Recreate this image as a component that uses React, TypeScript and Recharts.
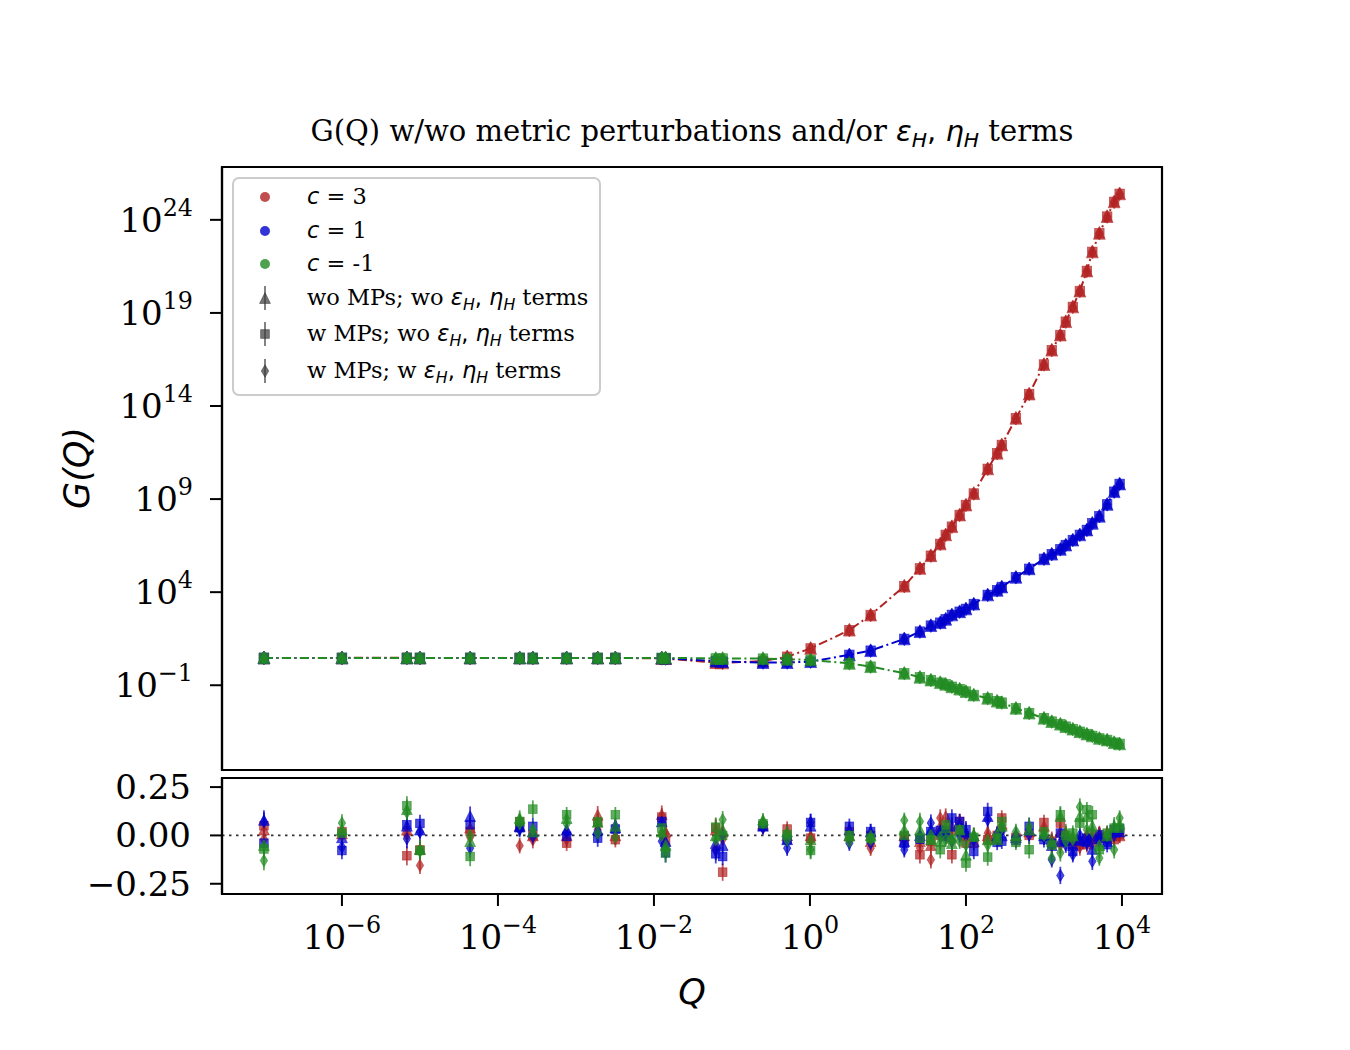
import React from 'react';
import { ComposedChart, Scatter, Line, XAxis, YAxis, ErrorBar, ReferenceLine, ReferenceArea } from 'recharts';

// ---------- data ----------
const Q = [1e-7, 1e-6, 6.8e-6, 1.0e-5, 4.4e-5, 1.9e-4, 2.8e-4, 7.6e-4, 1.9e-3, 3.2e-3, 0.0126, 0.0141, 0.062, 0.076, 0.25, 0.51, 1.02, 3.2, 6.0, 16.2, 25.7, 35.5, 46.8, 55, 66, 83, 100, 126, 190, 251, 288, 437, 646, 1000, 1259, 1622, 1905, 2344, 2884, 3548, 4169, 5129, 6457, 7943, 9333];

const G_C3 = [2.95, 2.95, 3.0, 2.95, 2.95, 2.95, 2.95, 2.95, 2.95, 2.95, 2.75, 2.7, 1.66, 1.58, 2.0, 3.4, 9.5, 91, 590, 2.1e4, 1.9e5, 9.1e5, 3.9e6, 1.2e7, 3.3e7, 1.4e8, 4.8e8, 2.0e9, 4.2e10, 2.9e11, 8.1e11, 2.2e13, 4.4e14, 1.7e16, 1.0e17, 6.5e17, 3.4e18, 2.1e19, 1.5e20, 1.8e21, 1.9e22, 1.9e23, 1.5e24, 9.3e24, 2.5e25];
const G_C1 = [2.95, 2.95, 2.95, 2.95, 2.95, 2.95, 2.95, 2.95, 2.95, 2.95, 2.9, 2.8, 2.0, 1.86, 1.66, 1.66, 1.86, 4.3, 7.2, 31, 76, 160, 230, 350, 600, 890, 1260, 2300, 7100, 1.26e4, 1.9e4, 6.3e4, 1.8e5, 6.2e5, 1.1e6, 2.0e6, 3.4e6, 6.3e6, 1.2e7, 2.2e7, 5.0e7, 1.2e8, 5.2e8, 2.5e9, 6.5e9];
const G_CM1 = [2.95, 2.95, 2.95, 2.95, 2.95, 2.95, 2.95, 2.95, 2.95, 2.95, 2.95, 2.95, 2.75, 2.75, 2.7, 2.5, 2.3, 1.5, 1.0, 0.44, 0.27, 0.19, 0.138, 0.112, 0.083, 0.062, 0.046, 0.030, 0.020, 0.014, 0.0117, 0.0058, 0.0032, 0.0017, 0.00112, 8.1e-4, 6.0e-4, 4.4e-4, 3.2e-4, 2.4e-4, 1.9e-4, 1.4e-4, 1.15e-4, 8.3e-5, 7.1e-5];

// residuals (bottom panel): c=3 / c=1 / c=-1 ; triangle / square / diamond
const R_C3_TRI = [0.03, 0.01, 0.03, -0.07, 0.04, 0.05, 0.0, 0.0, 0.107, 0.0, 0.11, 0.02, 0.03, 0.02, 0.06, 0.0, 0.0, 0.0, -0.03, 0.0, -0.03, -0.05, 0.05, 0.1, 0.03, 0.07, 0.0, 0.0, 0.0, -0.01, 0.06, 0.0, 0.02, 0.05, -0.02, 0.02, 0.01, -0.02, -0.02, 0.0, -0.03, 0.0, 0.0, 0.0, 0.0];
const R_C3_SQ = [0.05, 0.02, -0.105, -0.075, 0.02, 0.07, 0.0, -0.04, 0.067, -0.022, 0.095, -0.03, 0.038, -0.19, 0.05, 0.033, -0.014, 0.02, 0.0, -0.005, -0.1, -0.03, 0.0, 0.05, -0.1, 0.072, -0.04, -0.04, -0.022, 0.0, 0.09, -0.01, 0.0, 0.067, -0.03, 0.064, -0.02, -0.048, -0.048, -0.048, -0.02, -0.014, -0.014, -0.022, 0.003];
const R_C3_DIA = [-0.02, 0.0, 0.0, -0.155, -0.01, -0.053, -0.022, -0.02, 0.03, -0.01, 0.0, 0.01, -0.066, -0.02, 0.04, 0.01, -0.03, -0.02, -0.066, -0.02, -0.066, -0.126, 0.09, 0.0, -0.03, 0.02, 0.0, -0.02, 0.012, -0.02, 0.03, -0.02, 0.03, 0.02, -0.05, -0.05, 0.0, -0.03, -0.06, 0.0, 0.0, 0.01, 0.01, 0.01, 0.01];
const R_C1_TRI = [0.08, -0.01, 0.05, 0.03, 0.10, 0.047, 0.02, 0.03, 0.03, 0.04, 0.072, -0.03, -0.04, -0.05, 0.05, -0.02, 0.05, 0.03, 0.02, -0.03, 0.0, 0.03, 0.026, 0.0, 0.05, 0.06, 0.02, -0.03, 0.1, 0.0, 0.0, -0.01, 0.03, 0.0, -0.05, -0.03, -0.02, -0.05, -0.02, -0.03, -0.07, 0.0, -0.03, 0.02, 0.02];
const R_C1_SQ = [-0.04, -0.078, 0.055, 0.062, 0.055, 0.04, 0.047, -0.005, -0.014, 0.033, 0.072, -0.09, -0.095, -0.109, 0.047, -0.022, 0.067, 0.047, 0.02, -0.04, -0.02, 0.02, 0.026, 0.01, 0.09, 0.072, 0.03, -0.083, 0.124, -0.036, -0.03, -0.026, 0.047, -0.022, -0.04, 0.012, -0.03, -0.083, -0.03, -0.014, -0.022, 0.003, -0.048, 0.03, 0.033];
const R_C1_DIA = [0.07, -0.06, -0.017, 0.017, -0.066, 0.03, -0.005, 0.016, 0.01, 0.047, -0.03, -0.06, -0.078, 0.0, 0.04, -0.066, 0.067, -0.04, -0.04, -0.074, 0.0, 0.064, 0.0, 0.012, -0.03, 0.0, 0.0, -0.02, 0.081, 0.009, 0.02, 0.0, 0.003, -0.01, -0.126, -0.207, -0.05, -0.1, 0.0, -0.04, -0.134, -0.03, -0.02, 0.0, 0.02];
const R_CM1_TRI = [-0.05, 0.03, 0.136, -0.07, -0.03, 0.09, 0.02, 0.09, 0.07, 0.05, 0.02, -0.05, 0.0, 0.03, 0.081, 0.02, -0.02, 0.0, 0.0, 0.03, 0.03, -0.02, -0.03, 0.04, -0.04, 0.03, -0.1, 0.0, -0.02, -0.02, 0.05, 0.0, 0.03, 0.01, -0.03, 0.1, 0.02, 0.0, 0.1, 0.1, 0.05, -0.05, 0.0, 0.05, 0.06];
const R_CM1_SQ = [-0.07, 0.012, 0.153, -0.078, -0.109, 0.072, 0.136, 0.107, 0.07, 0.107, 0.038, -0.09, 0.043, 0.0, 0.06, 0.003, -0.078, 0.0, -0.014, 0.0, -0.014, -0.022, -0.074, 0.055, -0.02, 0.03, -0.143, -0.01, -0.112, -0.014, 0.072, -0.036, -0.074, 0.02, -0.05, 0.107, 0.0, 0.012, 0.064, 0.133, 0.107, -0.074, 0.012, 0.038, 0.038];
const R_CM1_DIA = [-0.13, 0.064, 0.119, -0.083, 0.0, 0.06, 0.03, 0.06, 0.012, -0.009, 0.0, -0.074, -0.022, 0.081, 0.067, -0.022, -0.074, -0.03, -0.02, 0.078, 0.072, 0.0, -0.01, -0.02, -0.022, -0.03, -0.05, 0.0, -0.05, 0.0, 0.04, 0.02, 0.047, 0.0, -0.117, -0.09, -0.03, -0.02, 0.147, 0.03, 0.02, -0.117, 0.0, -0.074, 0.09];
const R_ERR = [0.05, 0.045, 0.05, 0.045, 0.05, 0.04, 0.045, 0.04, 0.045, 0.04, 0.045, 0.05, 0.05, 0.045, 0.035, 0.04, 0.045, 0.04, 0.04, 0.04, 0.045, 0.045, 0.045, 0.04, 0.045, 0.04, 0.045, 0.04, 0.045, 0.04, 0.04, 0.04, 0.045, 0.04, 0.04, 0.045, 0.04, 0.04, 0.045, 0.04, 0.045, 0.04, 0.04, 0.045, 0.04];

const X_TICKS = [1e-6, 1e-4, 1e-2, 1, 1e2, 1e4];
const Y_TICKS = [1e-1, 1e4, 1e9, 1e14, 1e19, 1e24];
const R_TICKS = [-0.25, 0, 0.25];
const R_TICK_LABELS = ['\u22120.25', '0.00', '0.25'];
const X_DOMAIN = [2.9e-8, 3.26e4];
const Y_DOMAIN = [2.8e-6, 6.9e26];
const R_DOMAIN = [-0.303, 0.297];

const LEGEND_C = ['3', '1', '-1'];
const LEGEND_KIND = ['wo MPs; wo ', 'w MPs; wo ', 'w MPs; w '];

// ---------- style ----------
const RED = '#b22222';
const BLUE = '#0000cd';
const GREEN = '#228b22';
const SERIF = "'DejaVu Serif', serif";
const SANS = "'DejaVu Sans', sans-serif";
const TICK_FS = 34;
const MARK_OP = 0.7;

type Kind = 'tri' | 'sq' | 'dia';

function Mark({ cx, cy, kind, color, s = 1 }: { cx?: number; cy?: number; kind: Kind; color: string; s?: number }) {
  if (cx == null || cy == null || !isFinite(cx) || !isFinite(cy)) return null;
  const common = { fill: color, fillOpacity: MARK_OP, stroke: color, strokeOpacity: MARK_OP, strokeWidth: 0.8 };
  if (kind === 'tri') {
    const r = 5.4 * s;
    return <path d={`M${cx},${cy - r} L${cx + r},${cy + r} L${cx - r},${cy + r} Z`} {...common} />;
  }
  if (kind === 'sq') {
    const h = 4.3 * s;
    return <rect x={cx - h} y={cy - h} width={2 * h} height={2 * h} {...common} />;
  }
  const w = 3.7 * s, h = 6.2 * s;
  return <path d={`M${cx},${cy - h} L${cx + w},${cy} L${cx},${cy + h} L${cx - w},${cy} Z`} {...common} />;
}

const supText = (n: number) => (n < 0 ? '\u2212' : '') + Math.abs(n);

function XLogTick(props: any) {
  const { x, y, payload } = props;
  const e = Math.round(Math.log10(payload.value));
  return (
    <text x={x} y={y + 43} textAnchor="middle" fontFamily={SERIF} fontSize={TICK_FS} fill="#000">
      10<tspan fontSize={TICK_FS * 0.7} dy={-16}>{supText(e)}</tspan>
    </text>
  );
}

function YLogTick(props: any) {
  const { x, y, payload } = props;
  const e = Math.round(Math.log10(payload.value));
  return (
    <text x={x} y={y + 12} textAnchor="end" fontFamily={SERIF} fontSize={TICK_FS} fill="#000">
      10<tspan fontSize={TICK_FS * 0.7} dy={-16}>{supText(e)}</tspan>
    </text>
  );
}

function RTick(props: any) {
  const { x, y, payload } = props;
  const i = R_TICKS.indexOf(payload.value);
  return (
    <text x={x} y={y + 12} textAnchor="end" fontFamily={SERIF} fontSize={TICK_FS} fill="#000">
      {i >= 0 ? R_TICK_LABELS[i] : String(payload.value)}
    </text>
  );
}

const rowsG = (g: number[]) => Q.map((q, i) => ({ q, g: g[i] }));
const rowsR = (r: number[]) => Q.map((q, i) => ({ q, r: r[i], e: R_ERR[i] }));

const TOP = [
  { color: RED, g: G_C3 },
  { color: BLUE, g: G_C1 },
  { color: GREEN, g: G_CM1 },
];
const KINDS: Kind[] = ['tri', 'sq', 'dia'];
const BOTTOM = [
  { color: RED, r: [R_C3_TRI, R_C3_SQ, R_C3_DIA] },
  { color: BLUE, r: [R_C1_TRI, R_C1_SQ, R_C1_DIA] },
  { color: GREEN, r: [R_CM1_TRI, R_CM1_SQ, R_CM1_DIA] },
];

const axisLine = { stroke: '#000', strokeWidth: 2.2 };
const tickLine = { stroke: '#000', strokeWidth: 2 };

function mathEH(fs: number, keyBase: string) {
  const sub = fs * 0.7;
  const d = fs * 0.22;
  return [
    <tspan key={keyBase + 'a'} fontFamily={SANS} fontStyle="italic">ε</tspan>,
    <tspan key={keyBase + 'b'} fontFamily={SANS} fontStyle="italic" fontSize={sub} dy={d}>H</tspan>,
    <tspan key={keyBase + 'c'} fontFamily={SANS} dy={-d}>, </tspan>,
    <tspan key={keyBase + 'd'} fontFamily={SANS} fontStyle="italic">η</tspan>,
    <tspan key={keyBase + 'e'} fontFamily={SANS} fontStyle="italic" fontSize={sub} dy={d}>H</tspan>,
    <tspan key={keyBase + 'f'} dy={-d}> terms</tspan>,
  ];
}

function LegendMark({ kind, x, y }: { kind: Kind; x: number; y: number }) {
  const col = '#3a3a3a';
  return (
    <g>
      <line x1={x} x2={x} y1={y - 12} y2={y + 12} stroke={col} strokeOpacity={0.7} strokeWidth={1.8} />
      <Mark cx={x} cy={y} kind={kind} color={col} />
    </g>
  );
}

export default function App() {
  const legendRows = [197, 231, 264, 298, 334, 371];
  const cColors = [RED, BLUE, GREEN];
  return (
    <div style={{ position: 'absolute', left: 0, top: 0, width: 1350, height: 1050, background: '#fff' }}>
      <div style={{ position: 'absolute', left: 0, top: 0 }}>
        <ComposedChart width={1350} height={780} margin={{ top: 167, right: 188, bottom: 10, left: 0 }}>
          <XAxis xAxisId="x" dataKey="q" type="number" scale="log" domain={X_DOMAIN} allowDataOverflow
            orientation="bottom" height={0} tick={false} tickLine={false} axisLine={axisLine} ticks={X_TICKS} />
          <YAxis yAxisId="y" dataKey="g" type="number" scale="log" domain={Y_DOMAIN} allowDataOverflow
            width={222} ticks={Y_TICKS} tick={<YLogTick />} tickSize={12} tickMargin={17} interval={0}
            tickLine={tickLine} axisLine={axisLine} />
          <ReferenceArea xAxisId="x" yAxisId="y" x1={X_DOMAIN[0]} x2={X_DOMAIN[1]} y1={Y_DOMAIN[0]} y2={Y_DOMAIN[1]}
            fill="none" fillOpacity={0} stroke="#000" strokeWidth={2.2} strokeOpacity={1} ifOverflow="visible" />
          {TOP.map((s, si) => (
            <Line key={'l' + si} xAxisId="x" yAxisId="y" data={rowsG(s.g)} dataKey="g" type="linear"
              stroke={s.color} strokeWidth={2} strokeDasharray="9 3.5 2 3.5" dot={false} activeDot={false}
              isAnimationActive={false} />
          ))}
          {TOP.map((s, si) =>
            KINDS.map((k) => (
              <Scatter key={'s' + si + k} xAxisId="x" yAxisId="y" data={rowsG(s.g)} isAnimationActive={false}
                shape={(p: any) => <Mark cx={p.cx} cy={p.cy} kind={k} color={s.color} s={1.1} />} />
            ))
          )}
        </ComposedChart>
      </div>

      <div style={{ position: 'absolute', left: 0, top: 740 }}>
        <ComposedChart width={1350} height={310} margin={{ top: 38, right: 188, bottom: 76, left: 0 }}>
          <XAxis xAxisId="x" dataKey="q" type="number" scale="log" domain={X_DOMAIN} allowDataOverflow
            orientation="bottom" height={80} ticks={X_TICKS} tick={<XLogTick />} tickSize={12} tickMargin={0}
            interval={0} tickLine={tickLine} axisLine={axisLine} />
          <YAxis yAxisId="y" dataKey="r" type="number" domain={R_DOMAIN} allowDataOverflow
            width={222} ticks={R_TICKS} tick={<RTick />} tickSize={12} tickMargin={19} interval={0}
            tickLine={tickLine} axisLine={axisLine} />
          <ReferenceArea xAxisId="x" yAxisId="y" x1={X_DOMAIN[0]} x2={X_DOMAIN[1]} y1={R_DOMAIN[0]} y2={R_DOMAIN[1]}
            fill="none" fillOpacity={0} stroke="#000" strokeWidth={2.2} strokeOpacity={1} ifOverflow="visible" />
          <ReferenceLine xAxisId="x" yAxisId="y" y={0} stroke="#333" strokeWidth={1.6} strokeDasharray="2.5 4.5" />
          {BOTTOM.map((s, si) =>
            KINDS.map((k, ki) => (
              <Scatter key={'b' + si + k} xAxisId="x" yAxisId="y" data={rowsR(s.r[ki])} isAnimationActive={false}
                shape={(p: any) => <Mark cx={p.cx} cy={p.cy} kind={k} color={s.color} />}>
                <ErrorBar dataKey="e" direction="y" width={0} stroke={s.color} strokeOpacity={0.75} strokeWidth={1.8} />
              </Scatter>
            ))
          )}
        </ComposedChart>
      </div>

      <svg style={{ position: 'absolute', left: 0, top: 0, pointerEvents: 'none' }} width={1350} height={1050}>
        <text x={692} y={141} textAnchor="middle" fontFamily={SERIF} fontSize={29} fill="#000">
          G(Q) w/wo metric perturbations and/or {mathEH(29, 't')}
        </text>
        <text transform="translate(89,468) rotate(-90)" textAnchor="middle" fontFamily={SANS} fontStyle="italic" fontSize={35} fill="#000">
          G(Q)
        </text>
        <text x={692} y={1004} textAnchor="middle" fontFamily={SANS} fontStyle="italic" fontSize={35} fill="#000">
          Q
        </text>
        <rect x={233} y={178} width={367} height={217} rx={6} fill="#fff" fillOpacity={0.8} stroke="#cccccc" strokeWidth={2} />
        {LEGEND_C.map((c, i) => (
          <g key={'lc' + i}>
            <circle cx={265} cy={legendRows[i]} r={5} fill={cColors[i]} fillOpacity={0.8} />
            <text x={307} y={legendRows[i] + 7} fontFamily={SERIF} fontSize={22.5} fill="#000">
              <tspan fontFamily={SANS} fontStyle="italic">c</tspan> = {c}
            </text>
          </g>
        ))}
        {LEGEND_KIND.map((t, i) => (
          <g key={'lk' + i}>
            <LegendMark kind={KINDS[i]} x={265} y={legendRows[3 + i]} />
            <text x={307} y={legendRows[3 + i] + 7} fontFamily={SERIF} fontSize={22.5} fill="#000">
              {t}{mathEH(22.5, 'k' + i)}
            </text>
          </g>
        ))}
      </svg>
    </div>
  );
}
